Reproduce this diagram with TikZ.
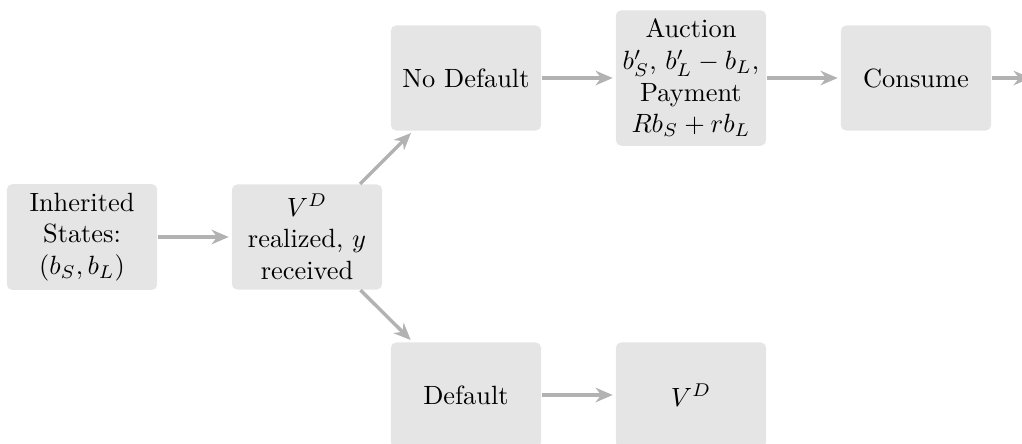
\documentclass[tikz,border=0pt]{standalone}
\usetikzlibrary{arrows.meta}
\begin{document}
\begin{tikzpicture}[
  box/.style={fill=black!10, rounded corners=2pt, minimum width=2cm, minimum height=1.4cm, align=center, inner xsep=1pt},
  arr/.style={draw=black!30, line width=1.3pt, -{Stealth[length=6.5pt,width=5.5pt]}, shorten >=1pt}
]
\clip (0,0) rectangle (13.609,-5.912);
\node[box] (inh) at (1.092,-3.156) {Inherited\\States:\\$(b_S,b_L)$};
\node[box] (vr) at (4.088,-3.156) {$V^D$\\realized, $y$\\received};
\node[box] (nd) at (6.205,-1.039) {No Default};
\node[box] (auc) at (9.201,-1.039) {Auction\\$b_S'$, $b_L'-b_L$,\\Payment\\$Rb_S+rb_L$};
\node[box] (con) at (12.197,-1.039) {Consume};
\node[box] (df) at (6.205,-5.26) {Default};
\node[box] (vd) at (9.201,-5.26) {$V^D$};
\coordinate (out) at (13.76,-1.039);
\draw[arr] (inh) -- (vr);
\draw[arr] (vr) -- (nd);
\draw[arr] (vr) -- (df);
\draw[arr] (nd) -- (auc);
\draw[arr] (auc) -- (con);
\draw[arr] (con) -- (out);
\draw[arr] (df) -- (vd);
\end{tikzpicture}
\end{document}
